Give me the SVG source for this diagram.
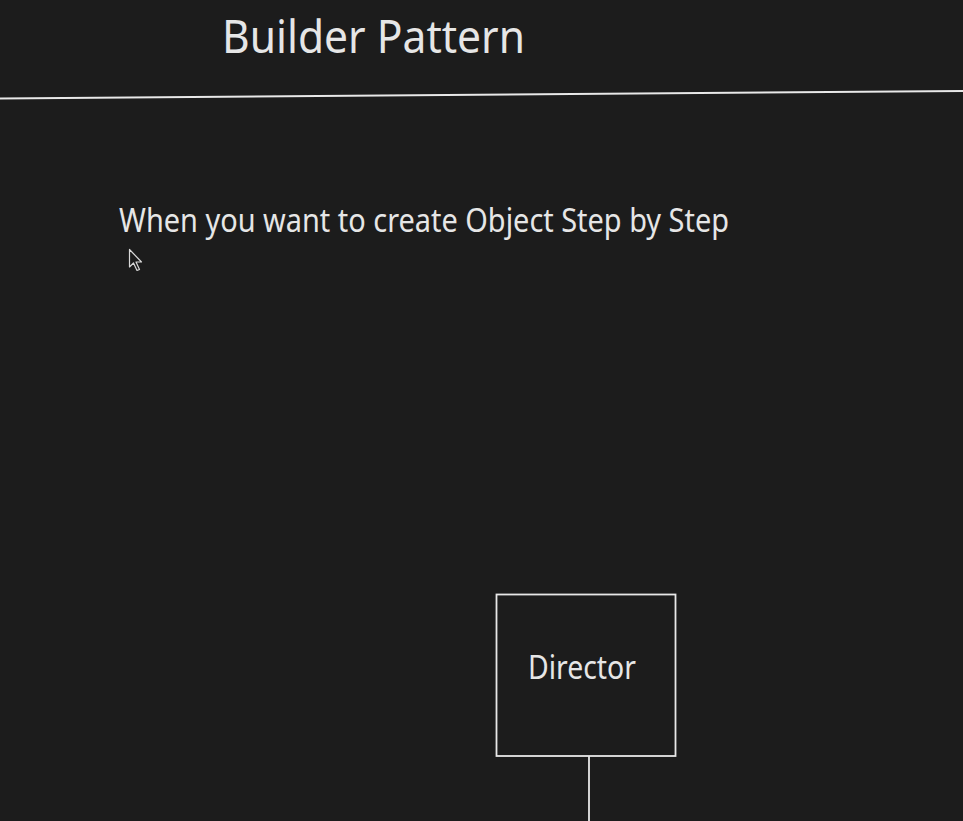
<svg xmlns="http://www.w3.org/2000/svg" width="963" height="821" viewBox="0 0 963 821">
<style>
.t{font-family:"Noto Sans","Open Sans","Liberation Sans",sans-serif;fill:#e6e6e6}
.ln{stroke:#e8e8e8;fill:none}
</style>
<rect x="0" y="0" width="963" height="821" fill="#1c1c1c"/>
<g id="title">
<text class="t" x="222" y="53" font-size="46" textLength="303" lengthAdjust="spacingAndGlyphs">Builder Pattern</text>
<line class="ln" x1="0" y1="98.5" x2="963" y2="91" stroke-width="2"/>
</g>
<g id="subtitle">
<text class="t" x="119" y="232" font-size="32" textLength="610" lengthAdjust="spacingAndGlyphs">When you want to create Object Step by Step</text>
</g>
<g id="cursor">
<path d="M129.5,249.5 L129.5,267 L133.5,263 L137,270.5 L139.5,269.5 L136,262 L141.5,262 Z" fill="#1c1c1c" stroke="#d8d8d8" stroke-width="1.2" stroke-linejoin="round"/>
</g>
<g id="director">
<rect class="ln" x="496.5" y="594.5" width="179" height="161.5" stroke-width="1.8"/>
<text class="t" x="528" y="679" font-size="32" textLength="108" lengthAdjust="spacingAndGlyphs">Director</text>
</g>
<g id="connectors">
<line class="ln" x1="589" y1="756" x2="589" y2="821" stroke-width="1.8"/>
</g>
</svg>
